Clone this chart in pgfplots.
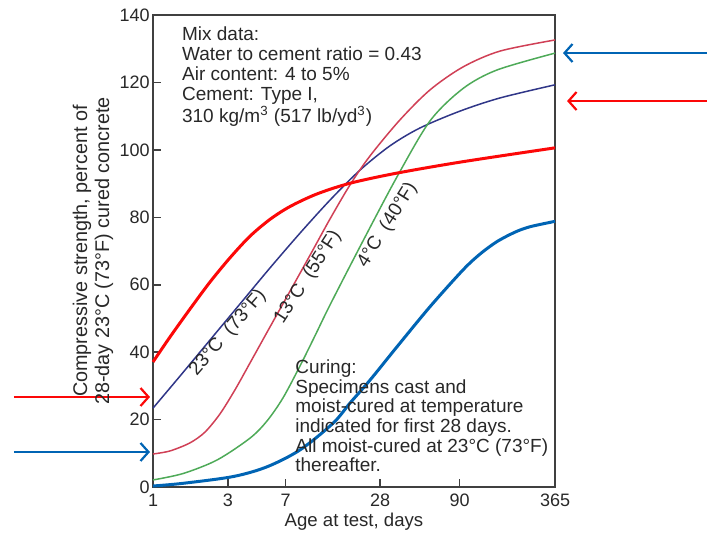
\documentclass[border=0pt]{standalone}
\usepackage{fontspec}
\setmainfont{Liberation Sans}
\usepackage{pgfplots}
\pgfplotsset{compat=1.18}
\usetikzlibrary{arrows.meta}
\definecolor{axisgray}{RGB}{64,64,64}
\definecolor{textgray}{RGB}{40,40,40}
\definecolor{cnavy}{RGB}{48,54,136}
\definecolor{ccrimson}{RGB}{208,64,86}
\definecolor{cgreen}{RGB}{78,170,88}
\definecolor{bred}{RGB}{252,8,8}
\definecolor{bblue}{RGB}{0,100,180}

\begin{document}
\begin{tikzpicture}
\begin{axis}[
  scale only axis,
  width=201pt, height=236pt,
  xmode=log,
  xmin=1, xmax=365,
  ymin=0, ymax=140,
  xtick={1,3,7,28,90,365},
  xticklabels={1,3,7,28,90,365},
  xminorticks=false,
  ytick={0,20,...,140},
  xtick pos=bottom, ytick pos=left,
  tick align=inside,
  major tick length=4pt,
  axis line style={draw=axisgray, line width=1pt},
  every tick/.style={draw=axisgray, line width=0.8pt},
  tick label style={font=\fontsize{9}{10}\selectfont, text=textgray},
  yticklabel style={inner xsep=1.5pt},
  /pgf/number format/assume math mode=true,
  xlabel={Age at test, days},
  xlabel style={at={(axis description cs:0.5,-0.074)}, anchor=center,
    font=\fontsize{9.3}{11}\selectfont, text=textgray},
  ylabel={Compressive strength, percent of\\28-day 23°C (73°F) cured concrete},
  ylabel style={at={(axis description cs:-0.149,0.5)}, anchor=center, align=center,
    font=\fontsize{9.9}{11}\selectfont, text=textgray},
  clip=false
]

% 23 C (73 F)
\addplot[cnavy, line width=0.75pt, smooth] coordinates {
  (1,23.4) (1.486,32.9) (2.308,43.6) (3.585,54.3) (5.57,65.0) (8.647,75.3)
  (13.43,85.1) (20.86,94.0) (32.39,101.2) (50.3,106.5) (90.5,111.5) (162.8,115.4) (365,119.3)
};
% 13 C (55 F)
\addplot[ccrimson, line width=0.75pt, smooth] coordinates {
  (1,9.8) (1.283,10.7) (1.721,13.1) (2.145,16.3) (2.673,21.7) (3.328,28.8) (4.152,36.8)
  (5.57,47.5) (7.47,58.1) (10.03,68.8) (13.43,79.5) (18.01,89.6) (24.15,98.2)
  (37.5,108.9) (58.3,117.8) (94.6,124.6) (162.8,129.3) (365,132.6)
};
% 4 C (40 F)
\addplot[cgreen, line width=0.75pt, smooth] coordinates {
  (1,2.1) (1.553,4.0) (2.556,8.0) (4.152,14.5) (5.33,19.6) (6.73,26.4) (8.647,35.9)
  (10.76,44.8) (13.43,54.0) (21.8,73.0) (35.9,92.0) (58.3,108.6)
  (94.6,118.2) (155.8,123.7) (365,128.7)
};
% thick red
\addplot[bred, line width=1.5pt, smooth] coordinates {
  (1,37.1) (1.283,44.5) (1.721,52.8) (2.308,60.8) (3.096,68.0) (4.152,74.4)
  (5.57,79.4) (7.47,83.2) (11.05,86.9) (18.01,90.1) (35.75,93.1) (94.6,96.5) (365,100.6)
};
% thick blue
\addplot[bblue, line width=1.5pt, smooth] coordinates {
  (1,0.3) (1.553,1.1) (3.236,3.1) (5.33,6.0) (8.647,11.0) (14.03,18.9) (18.01,24.9)
  (24.15,31.7) (35.9,41.6) (58.3,53.5) (94.6,64.4) (121.4,69.1) (155.8,72.8)
  (202.9,75.6) (252.8,77.2) (365,78.8)
};

\node[rotate=49, font=\fontsize{9.5}{10}\selectfont, text=textgray] at (axis cs:3.0,45.7) {23°C\ \ (73°F)};
\node[rotate=57, font=\fontsize{9.5}{10}\selectfont, text=textgray] at (axis cs:9.72,62.3) {13°C\ \ (55°F)};
\node[rotate=58, font=\fontsize{9.5}{10}\selectfont, text=textgray] at (axis cs:31.2,77.7) {4°C\ \ (40°F)};

\node[anchor=north west, align=left, inner sep=0pt, font=\fontsize{9.5}{9.9}\selectfont, text=textgray]
  at (rel axis cs:0.0714,0.9756)
  {Mix data:\\Water to cement ratio = 0.43\\Air content: 4 to 5\%\\Cement: Type I,\\310 kg/m\textsuperscript{3} (517 lb/yd\textsuperscript{3})};

\node[anchor=north west, align=left, inner sep=0pt, font=\fontsize{9.5}{9.8}\selectfont, text=textgray]
  at (rel axis cs:0.3532,0.270)
  {Curing:\\Specimens cast and\\moist-cured at temperature\\indicated for first 28 days.\\All moist-cured at 23°C (73°F)\\thereafter.};

% arrows outside the frame
\draw[bred, line width=1.1pt, -{Straight Barb[length=4pt,width=9pt]}]
  (rel axis cs:-0.3458,0.1907) -- (rel axis cs:-0.0075,0.1907);
\draw[bblue, line width=1.1pt, -{Straight Barb[length=4pt,width=9pt]}]
  (rel axis cs:-0.3458,0.0742) -- (rel axis cs:-0.0075,0.0742);
\draw[bblue, line width=1.1pt, -{Straight Barb[length=4pt,width=9pt]}]
  (rel axis cs:1.378,0.9195) -- (rel axis cs:1.0199,0.9195);
\draw[bred, line width=1.1pt, -{Straight Barb[length=4pt,width=9pt]}]
  (rel axis cs:1.378,0.8178) -- (rel axis cs:1.0299,0.8178);

\coordinate (bbsw) at (rel axis cs:-0.3806,-0.1017);
\coordinate (bbne) at (rel axis cs:1.378,1.0318);
\end{axis}
\pgfresetboundingbox
\path[use as bounding box] (bbsw) rectangle (bbne);
\end{tikzpicture}
\end{document}
